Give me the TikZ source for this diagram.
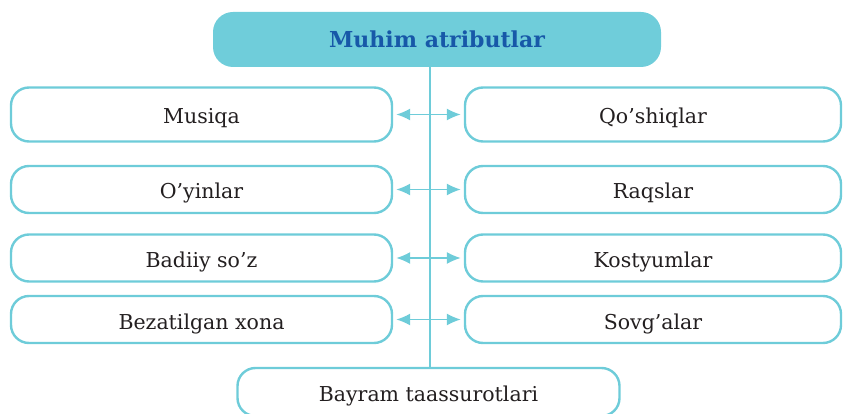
\documentclass[tikz,border=0pt]{standalone}
\usepackage{fontspec}
\setmainfont{DejaVu Serif}
\usetikzlibrary{arrows.meta}
\definecolor{cyanfill}{HTML}{6FCDDA}
\definecolor{cyanline}{HTML}{6ECCD9}
\definecolor{titleblue}{HTML}{1758A8}
\definecolor{txt}{HTML}{231F20}
\tikzset{
  itembox/.style={draw=cyanline, line width=2.4pt, rounded corners=18pt, fill=white,
    minimum height=#1, inner sep=0pt, text=txt, text height=24pt, text depth=5pt,
    font=\fontsize{20.5}{24}\selectfont},
  leftbox/.style={itembox=#1, minimum width=381pt},
  rightbox/.style={itembox=#1, minimum width=376pt},
  titlebox/.style={fill=cyanfill, draw=none, rounded corners=20pt, minimum width=448pt,
    minimum height=55pt, inner sep=0pt, text height=22pt, text depth=5pt,
    text=titleblue, font=\bfseries\fontsize{22}{26}\selectfont},
  link/.style={cyanline, line width=1.4pt, {Latex[length=14pt,width=12pt]}-{Latex[length=14pt,width=12pt]}, shorten <=3pt, shorten >=3pt},
  trunk/.style={cyanline, line width=2pt}
}
\begin{document}
\begin{tikzpicture}[x=1pt,y=-1pt]
\useasboundingbox (0,0) rectangle (843,414);
\coordinate (vx) at (430,0);
\node[titlebox] (top) at (437,39.5) {Muhim atributlar};
\node[itembox=48pt, minimum width=382pt] (bot) at (428.5,392) {Bayram taassurotlari};
\draw[trunk] (top.south -| vx) -- (bot.north -| vx);

\node[leftbox=54pt] (l1) at (201.5,114.5) {Musiqa};
\node[leftbox=47pt] (l2) at (201.5,189.5) {O’yinlar};
\node[leftbox=47pt] (l3) at (201.5,258) {Badiiy so’z};
\node[leftbox=47pt] (l4) at (201.5,319.5) {Bezatilgan xona};

\node[rightbox=54pt] (r1) at (653,114.5) {Qo’shiqlar};
\node[rightbox=47pt] (r2) at (653,189.5) {Raqslar};
\node[rightbox=47pt] (r3) at (653,258) {Kostyumlar};
\node[rightbox=47pt] (r4) at (653,319.5) {Sovg’alar};

\foreach \i in {1,2,3,4} {
  \draw[link] (l\i.east) -- (r\i.west);
}
\end{tikzpicture}
\end{document}
